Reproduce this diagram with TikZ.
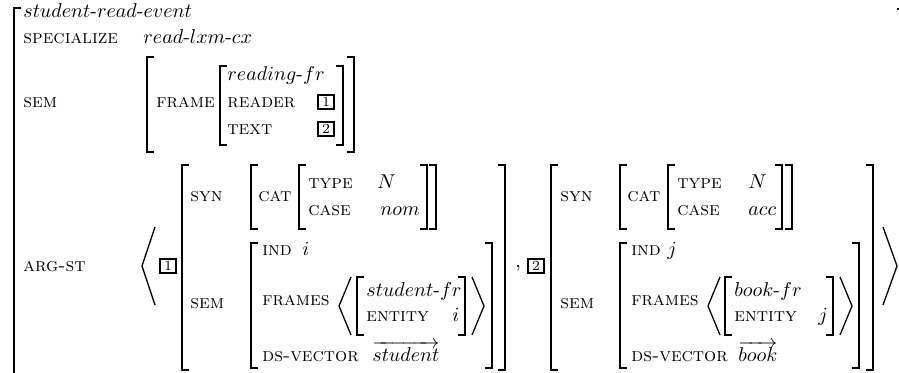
\documentclass[tikz,border=0pt]{standalone}
\usepackage{amsmath}
\usepackage{graphicx}
\newcommand\feat[1]{\scalebox{0.955}{\textsc{#1}}}
\tikzset{
  ft/.style={anchor=base west, inner sep=0pt},
  ty/.style={anchor=base west, inner sep=0pt},
  tagbox/.style={draw, line width=1pt, inner sep=0pt, minimum width=8pt, minimum height=7pt, font=\scriptsize},
  brk/.style={line width=0.9pt},
  ang/.style={line width=0.65pt, line join=miter},
}
\begin{document}
\begin{tikzpicture}[x=0.5pt,y=-0.5pt]
\useasboundingbox (0,0) rectangle (899,373);
\clip (0,0) rectangle (899,373);
% outermost brackets
\draw[brk] (21,8) -- (14,8) -- (14,400);
\draw[brk] (897,9) -- (904,9) -- (904,400);
% top rows
\node[ty] (title) at (23,18) {$student\mbox{-}read\mbox{-}event$};
\node[ft] (specF) at (23,44) {\feat{specialize}};
\node[ty] (specV) at (143,44) {$read\mbox{-}lxm\mbox{-}cx$};
\node[ft] (semF) at (23,108) {\feat{sem}};
\draw[brk] (154,57) -- (147,57) -- (147,152) -- (154,152);
\draw[brk] (347,57) -- (354,57) -- (354,152) -- (347,152);
\node[ft] (frameF) at (156,108) {\feat{frame}};
\draw[brk] (227,66) -- (220,66) -- (220,145) -- (227,145);
\draw[brk] (336,66) -- (343,66) -- (343,145) -- (336,145);
\node[ty] (readingV) at (227,81) {$reading\mbox{-}fr$};
\node[ft] (readerF) at (227,108) {\feat{reader}};
\node[tagbox] (tagA) at (326,102) {1};
\node[ft] (textF) at (227,135) {\feat{text}};
\node[tagbox] (tagB) at (326,129) {2};
% ARG-ST
\node[ft] (argF) at (23,272) {\feat{arg-st}};
\draw[ang] (155,227) -- (142,266) -- (155,305);
\node[tagbox] (tag1) at (168,266) {1};
% ---- argument 1
\draw[brk] (189,165) -- (182,165) -- (182,370) -- (189,370);
\draw[brk] (498,165) -- (505,165) -- (505,370) -- (498,370);
\node[ft] (syn1F) at (190,202) {\feat{syn}};
\draw[brk] (258,165) -- (251,165) -- (251,229) -- (258,229);
\node[ft] (cat1F) at (258,202) {\feat{cat}};
\draw[brk] (306,165) -- (299,165) -- (299,229) -- (306,229);
\node[ft] (type1F) at (308,189) {\feat{type}};
\node[ty] (type1V) at (377,189) {$N$};
\node[ft] (case1F) at (308,216) {\feat{case}};
\node[ty] (case1V) at (380,216) {$nom$};
\draw[brk] (420,165) -- (427,165) -- (427,229) -- (420,229);
\draw[brk] (429,165) -- (436,165) -- (436,229) -- (429,229);
\node[ft] (sem1F) at (190,309) {\feat{sem}};
\draw[brk] (258,243) -- (251,243) -- (251,368) -- (258,368);
\draw[brk] (485,243) -- (492,243) -- (492,368) -- (485,368);
\node[ft] (ind1F) at (262,256) {\feat{ind}};
\node[ty] (ind1V) at (302,256) {$i$};
\node[ft] (frames1F) at (262,306) {\feat{frames}};
\draw[ang] (351,277) -- (339,306) -- (351,335);
\draw[brk] (364,277) -- (357,277) -- (357,335) -- (364,335);
\node[ty] (sfr1V) at (366,297) {$student\mbox{-}fr$};
\node[ft] (ent1F) at (366,322) {\feat{entity}};
\node[ty] (ent1V) at (452,322) {$i$};
\draw[brk] (458,277) -- (465,277) -- (465,335) -- (458,335);
\draw[ang] (472,277) -- (484,306) -- (472,335);
\node[ft] (dsv1F) at (262,362) {\feat{ds-vector}};
\node[ty] (dsv1V) at (372,362) {$\overrightarrow{student}$};
% comma and tag 2
\node[ty] (comma) at (515,268) {,};
\node[tagbox] (tag2) at (536,266) {2};
% ---- argument 2
\draw[brk] (558,165) -- (551,165) -- (551,370) -- (558,370);
\draw[brk] (866,165) -- (873,165) -- (873,370) -- (866,370);
\node[ft] (syn2F) at (560,202) {\feat{syn}};
\draw[brk] (627,165) -- (620,165) -- (620,229) -- (627,229);
\node[ft] (cat2F) at (627,202) {\feat{cat}};
\draw[brk] (675,165) -- (668,165) -- (668,229) -- (675,229);
\node[ft] (type2F) at (677,189) {\feat{type}};
\node[ty] (type2V) at (748,189) {$N$};
\node[ft] (case2F) at (677,216) {\feat{case}};
\node[ty] (case2V) at (748,216) {$acc$};
\draw[brk] (775,165) -- (782,165) -- (782,229) -- (775,229);
\draw[brk] (785,165) -- (792,165) -- (792,229) -- (785,229);
\node[ft] (sem2F) at (560,309) {\feat{sem}};
\draw[brk] (627,243) -- (620,243) -- (620,368) -- (627,368);
\draw[brk] (852,243) -- (859,243) -- (859,368) -- (852,368);
\node[ft] (ind2F) at (631,256) {\feat{ind}};
\node[ty] (ind2V) at (667,256) {$j$};
\node[ft] (frames2F) at (631,306) {\feat{frames}};
\draw[ang] (720,277) -- (708,306) -- (720,335);
\draw[brk] (732,277) -- (725,277) -- (725,335) -- (732,335);
\node[ty] (bfr2V) at (734,297) {$book\mbox{-}fr$};
\node[ft] (ent2F) at (734,322) {\feat{entity}};
\node[ty] (ent2V) at (818,322) {$j$};
\draw[brk] (826,277) -- (833,277) -- (833,335) -- (826,335);
\draw[ang] (840,277) -- (852,306) -- (840,335);
\node[ft] (dsv2F) at (631,362) {\feat{ds-vector}};
\node[ty] (dsv2V) at (738,362) {$\overrightarrow{book}$};
% closing angle
\draw[ang] (883,227) -- (897,266) -- (883,305);
\end{tikzpicture}
\end{document}
